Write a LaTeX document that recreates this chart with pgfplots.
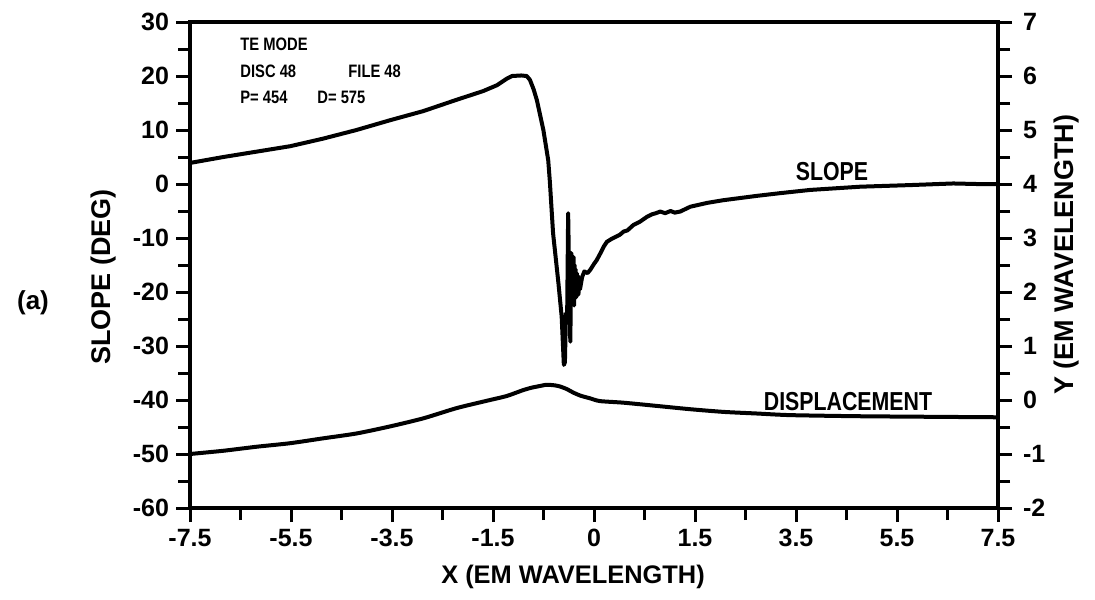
\documentclass[border=0pt]{standalone}
\usepackage{pgfplots}
\pgfplotsset{compat=1.18}
\usepackage{fontspec}
\setmainfont{Liberation Sans}
\newfontfamily\plotfont{Liberation Sans}[FakeStretch=0.82]

% slope of the surface (degrees) along x
\pgfplotstableread{
x y
-7.5 3.9
-6.88 5.0
-6.26 6.0
-5.64 7.0
-5.03 8.4
-4.41 10.0
-3.79 11.8
-3.17 13.5
-2.55 15.6
-2.06 17.2
-1.80 18.3
-1.62 19.5
-1.52 20.0
-1.35 20.1
-1.25 20.0
-1.19 19.3
-1.12 17.5
-1.06 15.5
-0.94 10.0
-0.85 4.4
-0.82 0.5
-0.76 -9.1
-0.66 -18.4
-0.60 -24.6
-0.56 -33.5
-0.54 -33.0
-0.52 -23.9
-0.50 -25.8
-0.48 -5.4
-0.46 -18.0
-0.44 -29.2
-0.42 -12.8
-0.41 -21.0
-0.40 -14.0
-0.39 -20.5
-0.38 -13.5
-0.37 -22.5
-0.36 -15.0
-0.35 -20.0
-0.34 -15.8
-0.33 -21.0
-0.32 -16.5
-0.31 -19.5
-0.30 -17.0
-0.29 -20.5
-0.27 -18.2
-0.26 -19.5
-0.22 -17.2
-0.18 -16.2
-0.12 -16.5
-0.07 -15.9
0.00 -14.8
0.05 -14.1
0.12 -12.8
0.18 -11.6
0.24 -10.7
0.32 -10.2
0.40 -9.8
0.48 -9.4
0.55 -8.8
0.62 -8.6
0.73 -7.6
0.85 -7.0
0.98 -6.1
1.08 -5.6
1.15 -5.4
1.23 -5.1
1.32 -5.4
1.42 -5.0
1.50 -5.3
1.60 -5.1
1.79 -4.2
2.10 -3.5
2.40 -3.0
3.02 -2.2
3.45 -1.7
4.01 -1.1
4.94 -0.5
5.87 -0.2
6.67 0.1
7.10 0.0
7.5 0.0
}\slopedata

% surface displacement Y (EM wavelength) along x
\pgfplotstableread{
x y
-7.5 -1.00
-6.88 -0.94
-6.26 -0.865
-5.64 -0.80
-5.03 -0.71
-4.41 -0.62
-3.79 -0.49
-3.17 -0.34
-2.55 -0.15
-1.93 0.00
-1.62 0.074
-1.31 0.185
-1.15 0.23
-1.00 0.26
-0.90 0.28
-0.82 0.28
-0.72 0.27
-0.63 0.25
-0.50 0.20
-0.39 0.14
-0.25 0.08
-0.07 0.03
0.11 -0.02
0.55 -0.05
1.17 -0.11
1.78 -0.17
2.40 -0.22
3.02 -0.25
3.64 -0.28
4.87 -0.30
6.11 -0.31
7.5 -0.32
}\dispdata

\begin{document}
\bfseries
\begin{tikzpicture}
\path[use as bounding box] (0,0) rectangle (547.5pt,299.5pt);

\pgfplotsset{
  plotframe/.style={
    at={(95pt,45.5pt)}, anchor=south west, scale only axis,
    width=404pt, height=243pt,
    xmin=-7.5, xmax=7.5,
    tick align=outside,
    major tick length=7pt, minor tick length=6pt,
    every tick/.style={line width=1.5pt, black},
    axis line style={line width=2pt, black},
    tick label style={font=\fontsize{12.5}{12.5}\selectfont\bfseries},
  }
}

\begin{axis}[
  plotframe,
  ymin=-60, ymax=30,
  xtick={-7.5,-5.625,-3.75,-1.875,0,1.875,3.75,5.625,7.5},
  xticklabels={-7.5,-5.5,-3.5,-1.5,0,1.5,3.5,5.5,7.5},
  minor xtick={-6.5625,-4.6875,-2.8125,-0.9375,0.9375,2.8125,4.6875,6.5625},
  ytick={-60,-50,-40,-30,-20,-10,0,10,20,30},
  yticklabels={-60,-50,-40,-30,-20,-10,0,10,20,30},
  minor ytick={-55,-45,-35,-25,-15,-5,5,15,25},
  xtick pos=bottom, ytick pos=left,
]
\addplot[black, line width=2pt, line join=round] table[x=x,y=y] {\slopedata};
\end{axis}

\begin{axis}[
  plotframe,
  ymin=-2, ymax=7,
  axis y line*=right, axis x line=none,
  ytick={-2,-1,0,1,2,3,4,5,6,7},
  yticklabels={-2,-1,0,1,2,3,4,5,6,7},
  minor ytick={-1.5,-0.5,0.5,1.5,2.5,3.5,4.5,5.5,6.5},
  yticklabel style={xshift=2pt},
]
\addplot[black, line width=2pt, smooth, tension=0.4] table[x=x,y=y] {\dispdata};
\end{axis}

% titles and labels
\node[font=\fontsize{13}{13}\selectfont\bfseries] at (16.5pt,148pt) {(a)};
\node[rotate=90, font=\fontsize{13.5}{13.5}\selectfont\bfseries] at (52pt,161pt) {SLOPE (DEG)};
\node[rotate=90, font=\fontsize{13.5}{13.5}\selectfont\bfseries] at (533pt,172pt) {Y (EM WAVELENGTH)};
\node[font=\fontsize{12.7}{12.7}\selectfont\bfseries] at (286.5pt,11pt) {X (EM WAVELENGTH)};
\node[font=\plotfont\fontsize{13}{13}\selectfont\bfseries] at (416pt,213.5pt) {SLOPE};
\node[font=\plotfont\fontsize{13}{13}\selectfont\bfseries] at (424pt,98.5pt) {DISPLACEMENT};
\begin{scope}[every node/.style={anchor=west, inner sep=0pt, font=\plotfont\fontsize{9}{9}\selectfont\bfseries}]
\node at (120pt,277.5pt) {TE MODE};
\node at (120pt,263.75pt) {DISC 48};
\node at (174pt,263.75pt) {FILE 48};
\node at (120pt,250.75pt) {P= 454};
\node at (158.5pt,250.75pt) {D= 575};
\end{scope}
\end{tikzpicture}
\end{document}
